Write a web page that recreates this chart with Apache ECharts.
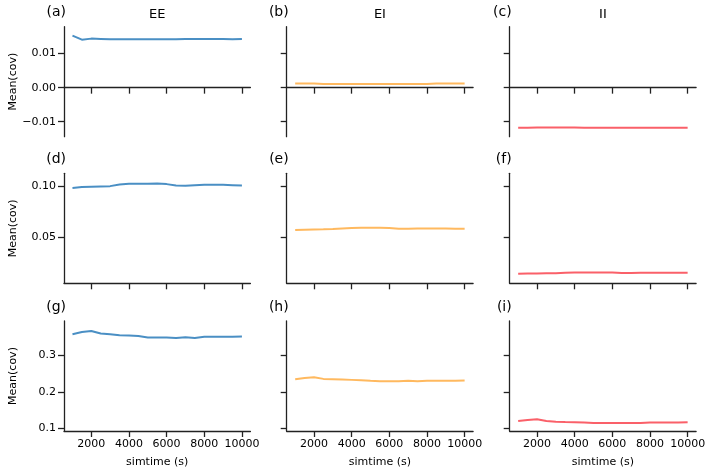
<!DOCTYPE html>
<html>
	<head>
		<meta charset="utf-8" />
		<script src="https://cdn.jsdelivr.net/npm/echarts@6/dist/echarts.min.js"></script>
		<title>Mean(cov)</title>
		<style>
			* { margin: 0; padding: 0; }
			body { background: #ffffff; }
			#chart { width: 709px; height: 473px; }
		</style>
	</head>
	<body>
		<div id="chart"></div>
		<script>
			// simulation time (s)
			var simtime = [1000, 1500, 2000, 2500, 3000, 3500, 4000, 4500, 5000, 5500,
				6000, 6500, 7000, 7500, 8000, 8500, 9000, 9500, 10000];

			// row 1
			var ee1 = [0.0153, 0.0141, 0.0144, 0.0143, 0.0142, 0.0142, 0.0142, 0.0142, 0.0142, 0.0142,
				0.0142, 0.0142, 0.0143, 0.0143, 0.0143, 0.0143, 0.0143, 0.0142, 0.0143];
			var ei1 = [0.0012, 0.0012, 0.0012, 0.0011, 0.0011, 0.0011, 0.0011, 0.0011, 0.0011, 0.0011,
				0.0011, 0.0011, 0.0011, 0.0011, 0.0011, 0.0012, 0.0012, 0.0012, 0.0012];
			var ii1 = [-0.0118, -0.0118, -0.0117, -0.0117, -0.0117, -0.0117, -0.0117, -0.0118, -0.0118, -0.0118,
				-0.0118, -0.0118, -0.0118, -0.0118, -0.0118, -0.0118, -0.0118, -0.0118, -0.0118];

			// row 2
			var ee2 = [0.0984, 0.0994, 0.0997, 0.1000, 0.1003, 0.1020, 0.1026, 0.1026, 0.1026, 0.1029,
				0.1023, 0.1010, 0.1007, 0.1013, 0.1016, 0.1016, 0.1016, 0.1013, 0.1010];
			var ei2 = [0.0568, 0.0572, 0.0575, 0.0576, 0.0578, 0.0585, 0.0588, 0.0591, 0.0591, 0.0591,
				0.0588, 0.0581, 0.0581, 0.0585, 0.0585, 0.0585, 0.0585, 0.0581, 0.0581];
			var ii2 = [0.0136, 0.0138, 0.0140, 0.0141, 0.0142, 0.0146, 0.0148, 0.0149, 0.0149, 0.0149,
				0.0148, 0.0145, 0.0144, 0.0146, 0.0147, 0.0147, 0.0147, 0.0146, 0.0146];

			// row 3
			var ee3 = [0.357, 0.363, 0.366, 0.359, 0.357, 0.3545, 0.3536, 0.352, 0.348, 0.348,
				0.348, 0.347, 0.349, 0.347, 0.350, 0.350, 0.350, 0.350, 0.351];
			var ei3 = [0.2345, 0.238, 0.240, 0.2354, 0.2345, 0.2336, 0.2327, 0.2318, 0.230, 0.229,
				0.229, 0.229, 0.230, 0.229, 0.230, 0.230, 0.230, 0.230, 0.231];
			var ii3 = [0.1209, 0.1236, 0.1254, 0.121, 0.119, 0.118, 0.1173, 0.1164, 0.1155, 0.1155,
				0.1155, 0.1155, 0.1155, 0.1155, 0.1164, 0.1164, 0.1164, 0.1164, 0.1173];

			var colTitles = ['EE', 'EI', 'II'];
			var panelLabels = ['(a)', '(b)', '(c)', '(d)', '(e)', '(f)', '(g)', '(h)', '(i)'];
			var xTicks = [2000, 4000, 6000, 8000, 10000];
			var yTicks = [[-0.01, 0, 0.01], [0.05, 0.10], [0.1, 0.2, 0.3]];
			var yDigits = [2, 2, 1];
			var yRange = [[-0.0144, 0.0179], [0.0042, 0.113], [0.0935, 0.393]];
			var rows = [[ee1, ei1, ii1], [ee2, ei2, ii2], [ee3, ei3, ii3]];

			var colors = ['#4a8fc4', '#ffb95f', '#fa6069'];
			var gridLeft = [64, 286.7, 509.7];
			var gridTop = [26.7, 173.3, 321];
			var gridW = 186.4, gridH = 110;
			var ink = '#000000', spine = '#222222';
			var font = 'DejaVu Sans';

			var grids = [], xAxes = [], yAxes = [], series = [], graphics = [];
			for (var r = 0; r < 3; r++) {
				for (var c = 0; c < 3; c++) {
					var k = r * 3 + c;
					grids.push({ left: gridLeft[c], top: gridTop[r], width: gridW, height: gridH });
					xAxes.push({
						type: 'value', gridIndex: k, min: 550, max: 10450,
						name: r == 2 ? 'simtime (s)' : '',
						nameLocation: 'middle', nameGap: 26,
						nameTextStyle: { fontFamily: font, fontSize: 11, color: ink },
						axisLine: { show: true, lineStyle: { color: spine, width: 1.3 } },
						axisTick: { show: true, length: 6, lineStyle: { color: spine, width: 1.3 }, customValues: xTicks },
						axisLabel: {
							show: r == 2, margin: 8, fontFamily: font, fontSize: 11, color: ink, customValues: xTicks,
							formatter: function (v) { return String(v); }
						},
						splitLine: { show: false }
					});
					(function (digits) {
						yAxes.push({
							type: 'value', gridIndex: k, min: yRange[r][0], max: yRange[r][1],
							name: c == 0 ? 'Mean(cov)' : '',
							nameLocation: 'middle', nameGap: 45, nameRotate: 90,
							nameTextStyle: { fontFamily: font, fontSize: 11, color: ink },
							axisLine: { show: true, lineStyle: { color: spine, width: 1.3 } },
							axisTick: { show: true, length: 6, lineStyle: { color: spine, width: 1.3 }, customValues: yTicks[r] },
							axisLabel: {
								show: c == 0, margin: 8, fontFamily: font, fontSize: 11, color: ink,
								customValues: yTicks[r],
								formatter: function (v) { return v.toFixed(digits).replace('-', '\u2212'); }
							},
							splitLine: { show: false }
						});
					})(yDigits[r]);
					series.push({
						type: 'line', xAxisIndex: k, yAxisIndex: k,
						data: simtime.map(function (t, i) { return [t, rows[r][c][i]]; }),
						showSymbol: false, smooth: false, silent: true,
						lineStyle: { color: colors[c], width: 2 }
					});
					graphics.push({
						type: 'text', x: gridLeft[c] + 2, y: gridTop[r] - 14,
						style: { text: panelLabels[k], fontFamily: font, fontSize: 14, fill: ink, align: 'right', verticalAlign: 'middle' }
					});
				}
			}
			for (var c = 0; c < 3; c++) {
				graphics.push({
					type: 'text', x: gridLeft[c] + gridW / 2, y: 15,
					style: { text: colTitles[c], fontFamily: font, fontSize: 13, fill: ink, align: 'center', verticalAlign: 'middle' }
				});
			}

			var chart = echarts.init(document.getElementById('chart'), null, { renderer: 'canvas' });
			chart.setOption({
				animation: false,
				backgroundColor: '#ffffff',
				grid: grids,
				xAxis: xAxes,
				yAxis: yAxes,
				series: series,
				graphic: graphics
			});
		</script>
	</body>
</html>
